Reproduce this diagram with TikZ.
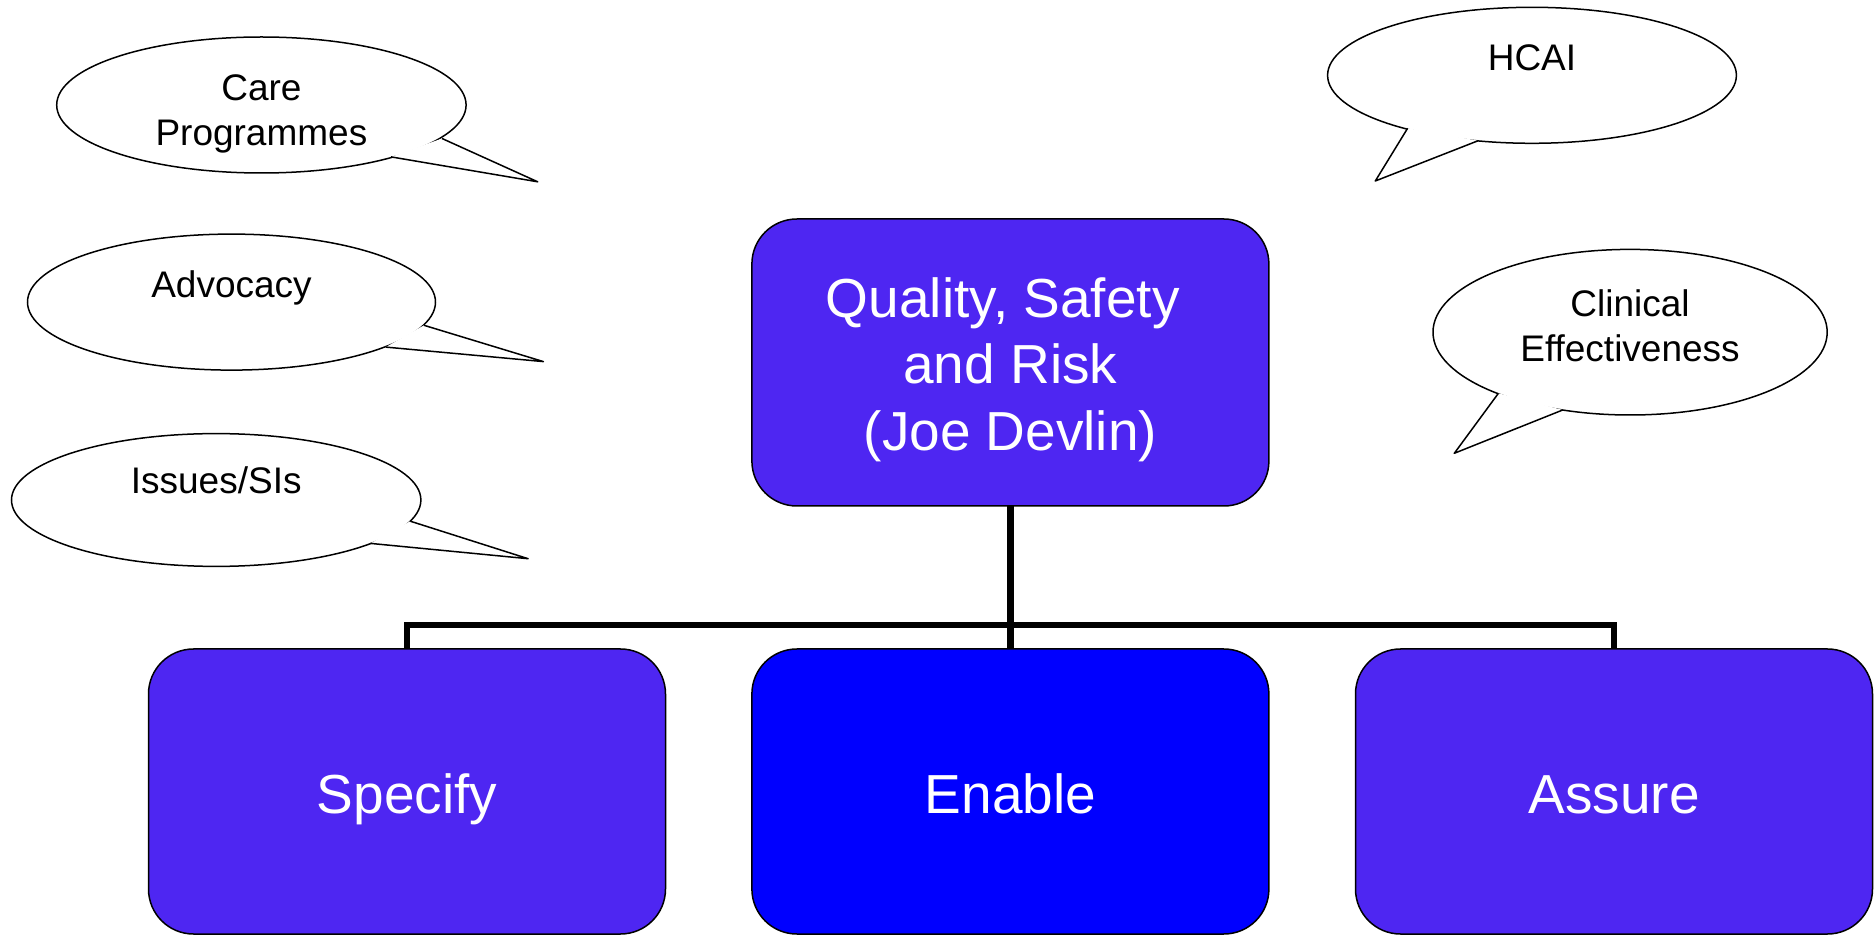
\documentclass[tikz,border=0pt]{standalone}
\usepackage{fontspec}
\setmainfont{Liberation Sans}
\usetikzlibrary{shapes.geometric}
\definecolor{boxpurple}{RGB}{78,38,242}
\definecolor{boxblue}{RGB}{0,0,255}
\tikzset{
  orgbox/.style={draw=black, line width=0.75pt, rounded corners=22.5pt,
    minimum width=258.5pt, inner sep=0pt, outer sep=0pt, text=white,
    font=\fontsize{27.5}{33.3}\selectfont, align=center},
  lowbox/.style={orgbox, minimum height=142.5pt, text height=21.7pt, text depth=0pt},
  bubble/.style={ellipse, draw=black, fill=white, line width=0.75pt, inner sep=0pt, outer sep=0pt},
  bubbletext/.style={anchor=base, align=center, inner sep=0pt, font=\fontsize{18.5}{22.2}\selectfont},
  tailfill/.style={fill=white, draw=none},
  tailline/.style={draw=black, line width=0.75pt, line join=round},
  conn/.style={draw=black, line width=3.25pt, line join=miter}
}
\begin{document}
\begin{tikzpicture}[x=0.5pt, y=-0.5pt]
\useasboundingbox (0,0) rectangle (1876,935);

% boxes
\node[orgbox, fill=boxpurple, minimum height=143.5pt] (top) at (1010.4,362.5)
  {\rule{0pt}{0.98em}Quality, Safety\hspace*{0.278em}\\and Risk\\(Joe Devlin)};
\node[lowbox, fill=boxpurple] (specify) at (407,791.5) {Specify};
\node[lowbox, fill=boxblue] (enable) at (1010.4,791.5) {Enable};
\node[lowbox, fill=boxpurple] (assure) at (1614,791.5) {Assure};

% connectors
\coordinate (bus) at (1010.4,625);
\draw[conn] (top.south) -- (enable.north);
\draw[conn] (specify.north) |- (bus) -| (assure.north);

% callouts
\node[bubble, minimum width=204.7pt, minimum height=68pt] (care) at (261.4,105) {};
\coordinate (careA) at (442,138.5);
\coordinate (careT) at (537.7,181.8);
\coordinate (careB) at (391.1,156.9);
\fill[tailfill] (careA) -- (careT) -- (careB) -- cycle;
\draw[tailline] (careA) -- (careT) -- (careB);
\node[bubbletext] (caretext) at (261.4,145.4) {Care\\Programmes};

\node[bubble, minimum width=204pt, minimum height=68pt] (advocacy) at (231.5,302.1) {};
\coordinate (advA) at (424,325.3);
\coordinate (advT) at (543.4,361.6);
\coordinate (advB) at (385.8,347.1);
\fill[tailfill] (advA) -- (advT) -- (advB) -- cycle;
\draw[tailline] (advA) -- (advT) -- (advB);
\node[bubbletext] (advtext) at (231.5,297.7) {Advocacy};

\node[bubble, minimum width=204.7pt, minimum height=66.4pt] (issues) at (216.2,500) {};
\coordinate (issA) at (410.3,521.2);
\coordinate (issT) at (528.1,558.7);
\coordinate (issB) at (370.5,543.4);
\fill[tailfill] (issA) -- (issT) -- (issB) -- cycle;
\draw[tailline] (issA) -- (issT) -- (issB);
\node[bubbletext] (isstext) at (216.2,493.7) {Issues/SIs};

\node[bubble, minimum width=204.4pt, minimum height=68pt] (hcai) at (1532,75.3) {};
\coordinate (hcaiA) at (1407.6,128.3);
\coordinate (hcaiT) at (1375.3,181);
\coordinate (hcaiB) at (1478.2,140.7);
\fill[tailfill] (hcaiA) -- (hcaiT) -- (hcaiB) -- cycle;
\draw[tailline] (hcaiA) -- (hcaiT) -- (hcaiB);
\node[bubbletext] (hcaitext) at (1532,70.7) {HCAI};

\node[bubble, minimum width=197.1pt, minimum height=82.8pt] (clinical) at (1630.1,332.2) {};
\coordinate (clinA) at (1498.4,393.3);
\coordinate (clinT) at (1454.3,453.3);
\coordinate (clinB) at (1562.7,410);
\fill[tailfill] (clinA) -- (clinT) -- (clinB) -- cycle;
\draw[tailline] (clinA) -- (clinT) -- (clinB);
\node[bubbletext, font=\fontsize{18.5}{22.5}\selectfont] (clintext) at (1630,361.7) {Clinical\\Effectiveness};
\end{tikzpicture}
\end{document}
